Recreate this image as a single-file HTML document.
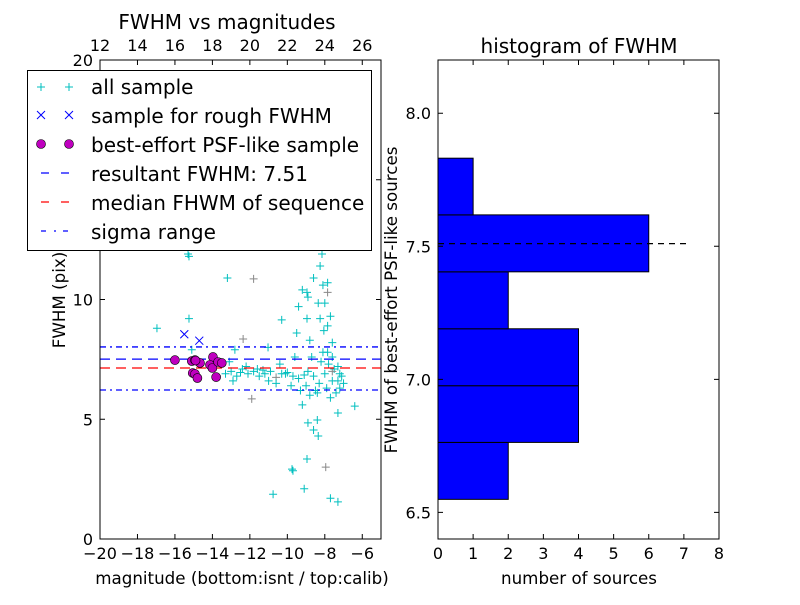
<!DOCTYPE html>
<html><head><meta charset="utf-8"><style>
body{margin:0;background:#fff;}
svg text{font-family:"DejaVu Sans","Liberation Sans",sans-serif;}
</style></head><body>
<svg id="fig" width="800" height="600" xmlns="http://www.w3.org/2000/svg">
<rect width="800" height="600" fill="#fff"/>
<g id="left"></g>
<g id="right"></g>
</svg>
<script>
// ---- scatter data ----
const allX = [-15.3,-15.25,-13.2,-11.8,-16.96,-15.25,-15.1,-12.36,-12.8,-11.03,-11.9,-10.3,-9.5,-9.4,-9.2,-8.95,-8.9,-8.95,-8.8,-8.6,-8.25,-8.15,-8.1,-7.85,-7.85,-8.35,-8.0,-8.25,-7.7,-7.85,-8.05,-7.6,-7.85,-7.6,-7.3,-7.6,-7.2,-8.9,-8.4,-8.6,-8.35,-7.3,-6.4,-8.95,-9.75,-9.7,-7.95,-9.1,-10.76,-7.7,-7.3,
 -13.3,-13.0,-12.7,-12.4,-12.1,-11.8,-11.5,-11.2,-10.9,-10.6,-10.3,-10.0,-9.7,-9.4,-9.1,-12.9,-12.2,-11.6,-11.0,-10.4,-9.8,-9.3,-13.1,-12.5,-11.3,-10.1,
 -8.9,-8.6,-8.3,-8.0,-7.8,-7.5,-7.3,-7.1,-8.7,-8.2,-7.9,-7.6,-7.4,-7.2,-8.5,-8.1,-7.7,-9.0,-8.8,-7.0,-9.6,-10.6,-9.2,-8.4];
const allY = [11.9,11.8,10.9,10.86,8.8,9.2,7.9,8.35,7.9,8.0,5.85,9.15,8.6,9.7,10.4,10.3,10.1,9.2,8.3,10.9,11.4,11.9,10.6,10.7,10.3,9.85,9.85,9.2,9.3,8.9,8.7,8.2,7.8,7.6,7.2,6.6,6.3,4.85,4.97,4.55,4.3,5.26,5.55,3.34,2.92,2.85,3.0,2.1,1.87,1.7,1.55,
 6.9,7.0,6.8,7.1,6.9,7.0,6.8,6.9,7.0,6.75,6.9,6.95,6.8,6.7,6.85,6.6,7.2,7.1,6.6,7.3,6.4,6.2,7.4,6.95,7.05,6.9,
 7.0,6.8,6.5,6.9,7.3,7.1,6.6,6.8,7.6,7.4,6.3,7.0,6.1,6.9,6.2,7.8,5.9,6.4,6.0,6.5,7.6,6.5,5.6,6.1];
const grayIdx = [3,7,10,24,46,60,88];
const roughX = [-15.5,-14.7];
const roughY = [8.55,8.28];
const bestX = [-16.0,-15.1,-14.93,-14.66,-15.05,-14.93,-14.8,-13.97,-14.13,-14.0,-13.8,-13.7,-13.5,-14.9];
const bestY = [7.47,7.43,7.47,7.35,6.93,6.89,6.72,7.6,7.27,7.14,6.76,7.39,7.35,7.45];
const resultFWHM = 7.51, medianFWHM = 7.14, sigmaHi = 8.02, sigmaLo = 6.22;
const xTicks = [-20,-18,-16,-14,-12,-10,-8,-6];
const xTickLabels = ["\u221220","\u221218","\u221216","\u221214","\u221212","\u221210","\u22128","\u22126"];
const topTicks = [12,14,16,18,20,22,24,26];
const yTicks = [0,5,10,15,20];
// ---- histogram data ----
const binEdges = [6.549,6.763,6.976,7.190,7.404,7.618,7.831];
const counts = [2,4,4,2,6,1];
const hYTicks = [6.5,7.0,7.5,8.0];
const hXTicks = [0,1,2,3,4,5,6,7,8];

const NS="http://www.w3.org/2000/svg";
function mk(parent,tag,attrs,txt){const e=document.createElementNS(NS,tag);for(const k in attrs)e.setAttribute(k,attrs[k]);if(txt!==undefined)e.textContent=txt;parent.appendChild(e);return e;}

const L={x0:100,x1:381,y0:60,y1:539};
const sx=v=>L.x0+(v+20)/15*(L.x1-L.x0);
const sy=v=>L.y1-v/20*(L.y1-L.y0);
const gl=document.getElementById('left');
const clip=mk(gl,'clipPath',{id:'cl'});mk(clip,'rect',{x:L.x0,y:L.y0,width:L.x1-L.x0,height:L.y1-L.y0});
const pts=mk(gl,'g',{'clip-path':'url(#cl)'});


function plus(g,x,y,c){const p=mk(g,'path',{d:`M${x-4},${y}h8M${x},${y-4}v8`,stroke:c,'stroke-width':1,fill:'none'});

}
for(let i=0;i<allX.length;i++){plus(pts,sx(allX[i]),sy(allY[i]),grayIdx.includes(i)?'#888':'#00bfbf');}
for(let i=0;i<roughX.length;i++){const x=sx(roughX[i]),y=sy(roughY[i]);const p=mk(pts,'path',{d:`M${x-4},${y-4}l8,8M${x-4},${y+4}l8,-8`,stroke:'#0000ff','stroke-width':1});

}
function hline(g,v,color,dash,name){const l=mk(g,'line',{x1:L.x0,x2:L.x1,y1:sy(v),y2:sy(v),stroke:color,'stroke-width':1.3,'stroke-dasharray':dash});

}
hline(pts,sigmaHi,'#0000ff','6,4,2,4','sigma-upper-line');
hline(pts,sigmaLo,'#0000ff','6,4,2,4','sigma-lower-line');
hline(pts,resultFWHM,'#0000ff','10,6','resultant-fwhm-line');
hline(pts,medianFWHM,'#ff0000','10,6','median-fwhm-line');
for(let i=0;i<bestX.length;i++){const c=mk(pts,'circle',{cx:sx(bestX[i]),cy:sy(bestY[i]),r:4.5,fill:'#bf00bf',stroke:'#000','stroke-width':0.6});

}
mk(gl,'rect',{x:L.x0,y:L.y0,width:L.x1-L.x0,height:L.y1-L.y0,fill:'none',stroke:'#000','stroke-width':1});
xTicks.forEach((v,i)=>{const x=sx(v);mk(gl,'path',{d:`M${x},${L.y1}v-5`,stroke:'#000'});
const t=mk(gl,'text',{x:x,y:L.y1+20,'text-anchor':'middle','font-size':16},xTickLabels[i]);

});
topTicks.forEach(v=>{const x=sx(v-32);mk(gl,'path',{d:`M${x},${L.y0}v5`,stroke:'#000'});
const t=mk(gl,'text',{x:x,y:L.y0-9,'text-anchor':'middle','font-size':16},String(v));

});
yTicks.forEach(v=>{const y=sy(v);mk(gl,'path',{d:`M${L.x0},${y}h5M${L.x1},${y}h-5`,stroke:'#000'});
const t=mk(gl,'text',{x:L.x0-7,y:y+6,'text-anchor':'end','font-size':16},String(v));

});

const R={x0:438,x1:719,y0:60,y1:539};
const hx=v=>R.x0+v/8*(R.x1-R.x0);
const hy=v=>R.y1-(v-6.4)/1.8*(R.y1-R.y0);
const gr=document.getElementById('right');
for(let i=0;i<counts.length;i++){const r=mk(gr,'rect',{x:hx(0),y:hy(binEdges[i+1]),width:hx(counts[i])-hx(0),height:hy(binEdges[i])-hy(binEdges[i+1]),fill:'#0000ff',stroke:'#000','stroke-width':1});

}
const rl=mk(gr,'line',{x1:hx(0),x2:hx(7.2),y1:hy(resultFWHM),y2:hy(resultFWHM),stroke:'#000','stroke-width':1.2,'stroke-dasharray':'6,5'});


mk(gr,'rect',{x:R.x0,y:R.y0,width:R.x1-R.x0,height:R.y1-R.y0,fill:'none',stroke:'#000','stroke-width':1});
hXTicks.forEach(v=>{const x=hx(v);mk(gr,'path',{d:`M${x},${R.y1}v-5M${x},${R.y0}v5`,stroke:'#000'});
const t=mk(gr,'text',{x:x,y:R.y1+20,'text-anchor':'middle','font-size':16},String(v));

});
hYTicks.forEach(v=>{const y=hy(v);mk(gr,'path',{d:`M${R.x0},${y}h5M${R.x1},${y}h-5`,stroke:'#000'});
const t=mk(gr,'text',{x:R.x0-7,y:y+6,'text-anchor':'end','font-size':16},v.toFixed(1));

});
</script>
<svg width="800" height="600" style="position:absolute;left:0;top:0" xmlns="http://www.w3.org/2000/svg">
<text x="227" y="29" text-anchor="middle" font-size="20">FWHM vs magnitudes</text>
<text x="242" y="584" text-anchor="middle" font-size="16.7">magnitude (bottom:isnt / top:calib)</text>
<text transform="translate(65,300) rotate(-90)" text-anchor="middle" font-size="16.7">FWHM (pix)</text>
<text x="579" y="53" text-anchor="middle" font-size="20">histogram of FWHM</text>
<text x="579" y="584" text-anchor="middle" font-size="16.7">number of sources</text>
<text transform="translate(397,300) rotate(-90)" text-anchor="middle" font-size="16.7">FWHM of best-effort PSF-like sources</text>
<g>
<rect x="27.5" y="70.5" width="344" height="180" fill="#fff" stroke="#000" stroke-width="1"/>
<path d="M37,87h8M41,83v8M65,87h8M69,83v8" stroke="#00bfbf"/>
<path d="M37,111l8,8M37,119l8,-8M65,111l8,8M65,119l8,-8" stroke="#0000ff"/>
<circle cx="41" cy="144" r="4.5" fill="#bf00bf" stroke="#000" stroke-width="0.6"/>
<circle cx="69" cy="144" r="4.5" fill="#bf00bf" stroke="#000" stroke-width="0.6"/>
<path d="M41,173h8M61,173h8" stroke="#0000ff" stroke-width="1.3"/>
<path d="M41,202h8M61,202h8" stroke="#ff0000" stroke-width="1.3"/>
<path d="M41,231h5M54,231h2M63,231h5" stroke="#0000ff" stroke-width="1.3"/>
<text x="91" y="94" font-size="20">all sample</text>
<text x="91" y="123" font-size="20">sample for rough FWHM</text>
<text x="91" y="152" font-size="20">best-effort PSF-like sample</text>
<text x="91" y="181" font-size="20">resultant FWHM: 7.51</text>
<text x="91" y="210" font-size="20">median FHWM of sequence</text>
<text x="91" y="239" font-size="20">sigma range</text>
</g>
</svg>
</body></html>
